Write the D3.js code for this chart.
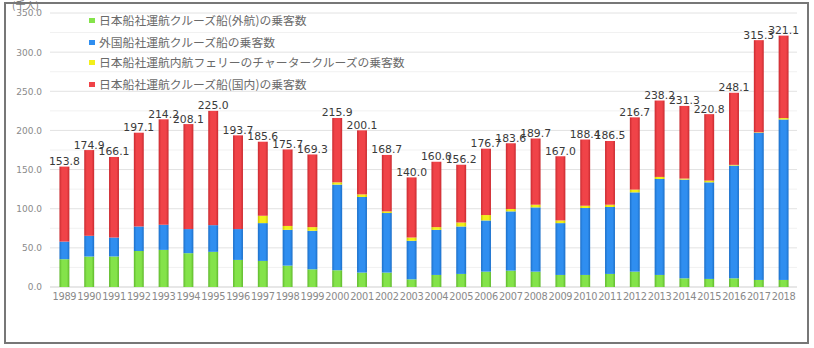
<!DOCTYPE html>
<html><head><meta charset="utf-8">
<script src="https://cdn.jsdelivr.net/npm/d3@7"></script>
<style>body{margin:0;background:#fff}svg{display:block}</style>
</head><body>
<script>
const years = ["1989","1990","1991","1992","1993","1994","1995","1996","1997","1998","1999","2000","2001","2002","2003","2004","2005","2006","2007","2008","2009","2010","2011","2012","2013","2014","2015","2016","2017","2018"];
const jpIntl   = [35.5,38.9,39.0,46.0,47.4,43.2,44.9,34.6,33.3,27.3,22.6,21.4,18.4,18.4,9.8,15.4,16.7,19.6,20.9,19.6,15.4,15.4,16.7,19.6,15.4,11.1,10.3,11.1,9.0,9.0];
const foreign  = [22.5,26.5,24.2,31.3,32.1,30.8,34.1,39.4,48.3,45.7,49.2,109.4,96.6,76.1,49.2,57.6,60.6,65.4,75.7,82.1,66.2,85.5,85.5,101.3,122.6,126.1,123.4,144.0,188.0,205.0];
const charter  = [0,0,0,0,0,0,0,0,9.4,5.0,4.7,2.9,3.3,2.1,4.2,3.5,5.1,6.9,3.0,3.4,3.4,2.9,2.9,3.5,2.6,1.3,2.2,0.9,0.6,1.8];
const domestic = [95.8,109.5,102.9,119.8,134.7,134.1,146.0,119.7,94.6,97.7,92.8,82.2,81.8,72.1,76.8,83.5,73.8,84.8,84.0,84.6,82.0,84.6,81.4,92.3,97.6,92.8,84.9,92.1,117.7,105.3];
const totals   = ["153.8","174.9","166.1","197.1","214.2","208.1","225.0","193.7","185.6","175.7","169.3","215.9","200.1","168.7","140.0","160.0","156.2","176.7","183.6","189.7","167.0","188.4","186.5","216.7","238.2","231.3","220.8","248.1","315.3","321.1"];
const seriesNames = ["日本船社運航クルーズ船(外航)の乗客数","外国船社運航クルーズ船の乗客数","日本船社運航内航フェリーのチャータークルーズの乗客数","日本船社運航クルーズ船(国内)の乗客数"];
const seriesKeys = ["jpIntl","foreign","charter","domestic"];
const colors = ["#84e34a","#2f8ef0","#f3ef1a","#f04348"];
const darkColors = ["#5fb82c","#1c6fc8","#c8c400","#c92a30"];
const yTicks = [0,50,100,150,200,250,300,350];
const unitLabel = "(千人)";

const W = 814, H = 348;
const svg = d3.select("body").append("svg").attr("width", W).attr("height", H);

// frame
svg.append("rect").attr("x",5).attr("y",3).attr("width",803).attr("height",340)
  .attr("fill","#fff").attr("stroke","#777").attr("stroke-width",2);

const rows = years.map((y,i)=>({year:y, jpIntl:jpIntl[i], foreign:foreign[i], charter:charter[i], domestic:domestic[i], total:totals[i]}));
const stacked = d3.stack().keys(seriesKeys)(rows);

const x = d3.scaleBand().domain(years).range([52,796]).paddingInner(0.6).paddingOuter(0.3);
const y = d3.scaleLinear().domain([0,350]).range([287,13]);

// gridlines
const minor = d3.range(25,350,25).filter(v=>v%50!==0);
svg.append("g").selectAll("line").data(minor).join("line")
  .attr("x1",50).attr("x2",797).attr("y1",d=>y(d)).attr("y2",d=>y(d))
  .attr("stroke","#f1f1f1").attr("stroke-width",1);
svg.append("g").selectAll("line").data(yTicks).join("line")
  .attr("x1",50).attr("x2",797).attr("y1",d=>y(d)).attr("y2",d=>y(d))
  .attr("stroke",d=>d===0?"#cfcfcf":"#e2e2e2").attr("stroke-width",1);

// y axis
const yAxis = d3.axisLeft(y).tickValues(yTicks).tickFormat(d3.format(".1f")).tickSize(0).tickPadding(4);
const yg = svg.append("g").attr("transform","translate(46,0)").call(yAxis);
yg.select(".domain").remove();
yg.selectAll("text").attr("font-family","DejaVu Sans").attr("font-size",9).attr("fill","#8a8a8a");

// x axis
const xAxis = d3.axisBottom(x).tickSize(0).tickPadding(4);
const xg = svg.append("g").attr("transform","translate(0,289)").call(xAxis);
xg.select(".domain").remove();
xg.selectAll("text").attr("font-family","DejaVu Sans").attr("font-size",9.8).attr("fill","#8a8a8a").attr("letter-spacing",-0.3);

// gradients
const defs = svg.append("defs");
colors.forEach((c,i)=>{
  const g = defs.append("linearGradient").attr("id","g"+i).attr("x1","0").attr("x2","1").attr("y1","0").attr("y2","0");
  g.append("stop").attr("offset","0%").attr("stop-color",darkColors[i]);
  g.append("stop").attr("offset","25%").attr("stop-color",colors[i]);
  g.append("stop").attr("offset","75%").attr("stop-color",colors[i]);
  g.append("stop").attr("offset","100%").attr("stop-color",darkColors[i]);
});

// bars
svg.append("g").selectAll("g").data(stacked).join("g")
  .attr("fill",(d,i)=>`url(#g${i})`)
  .selectAll("rect").data(d=>d).join("rect")
  .attr("x",d=>x(d.data.year)).attr("width",x.bandwidth())
  .attr("y",d=>y(d[1])).attr("height",d=>Math.max(0,y(d[0])-y(d[1])));

// total labels
svg.append("g").selectAll("text").data(rows).join("text")
  .attr("x",d=>x(d.year)+x.bandwidth()/2)
  .attr("y",d=>y(+d.total)-1.5)
  .attr("text-anchor","middle")
  .attr("font-family","DejaVu Sans").attr("font-size",10.8).attr("fill","#3a3a3a")
  .text(d=>d.total);

// unit label
svg.append("text").attr("x",12).attr("y",9).attr("font-family","Noto Sans CJK JP")
  .attr("font-size",10).attr("fill","#777").text(unitLabel);

// legend
const lg = svg.append("g");
const ly = [21,43,63,85];
seriesNames.forEach((n,i)=>{
  lg.append("rect").attr("x",89).attr("y",ly[i]-3).attr("width",6).attr("height",5).attr("fill",colors[i]);
  lg.append("text").attr("x",99).attr("y",ly[i]+4).attr("font-family","Noto Sans CJK JP")
    .attr("font-size",11.8).attr("fill","#6a6a6a").text(n);
});
</script>
</body></html>
